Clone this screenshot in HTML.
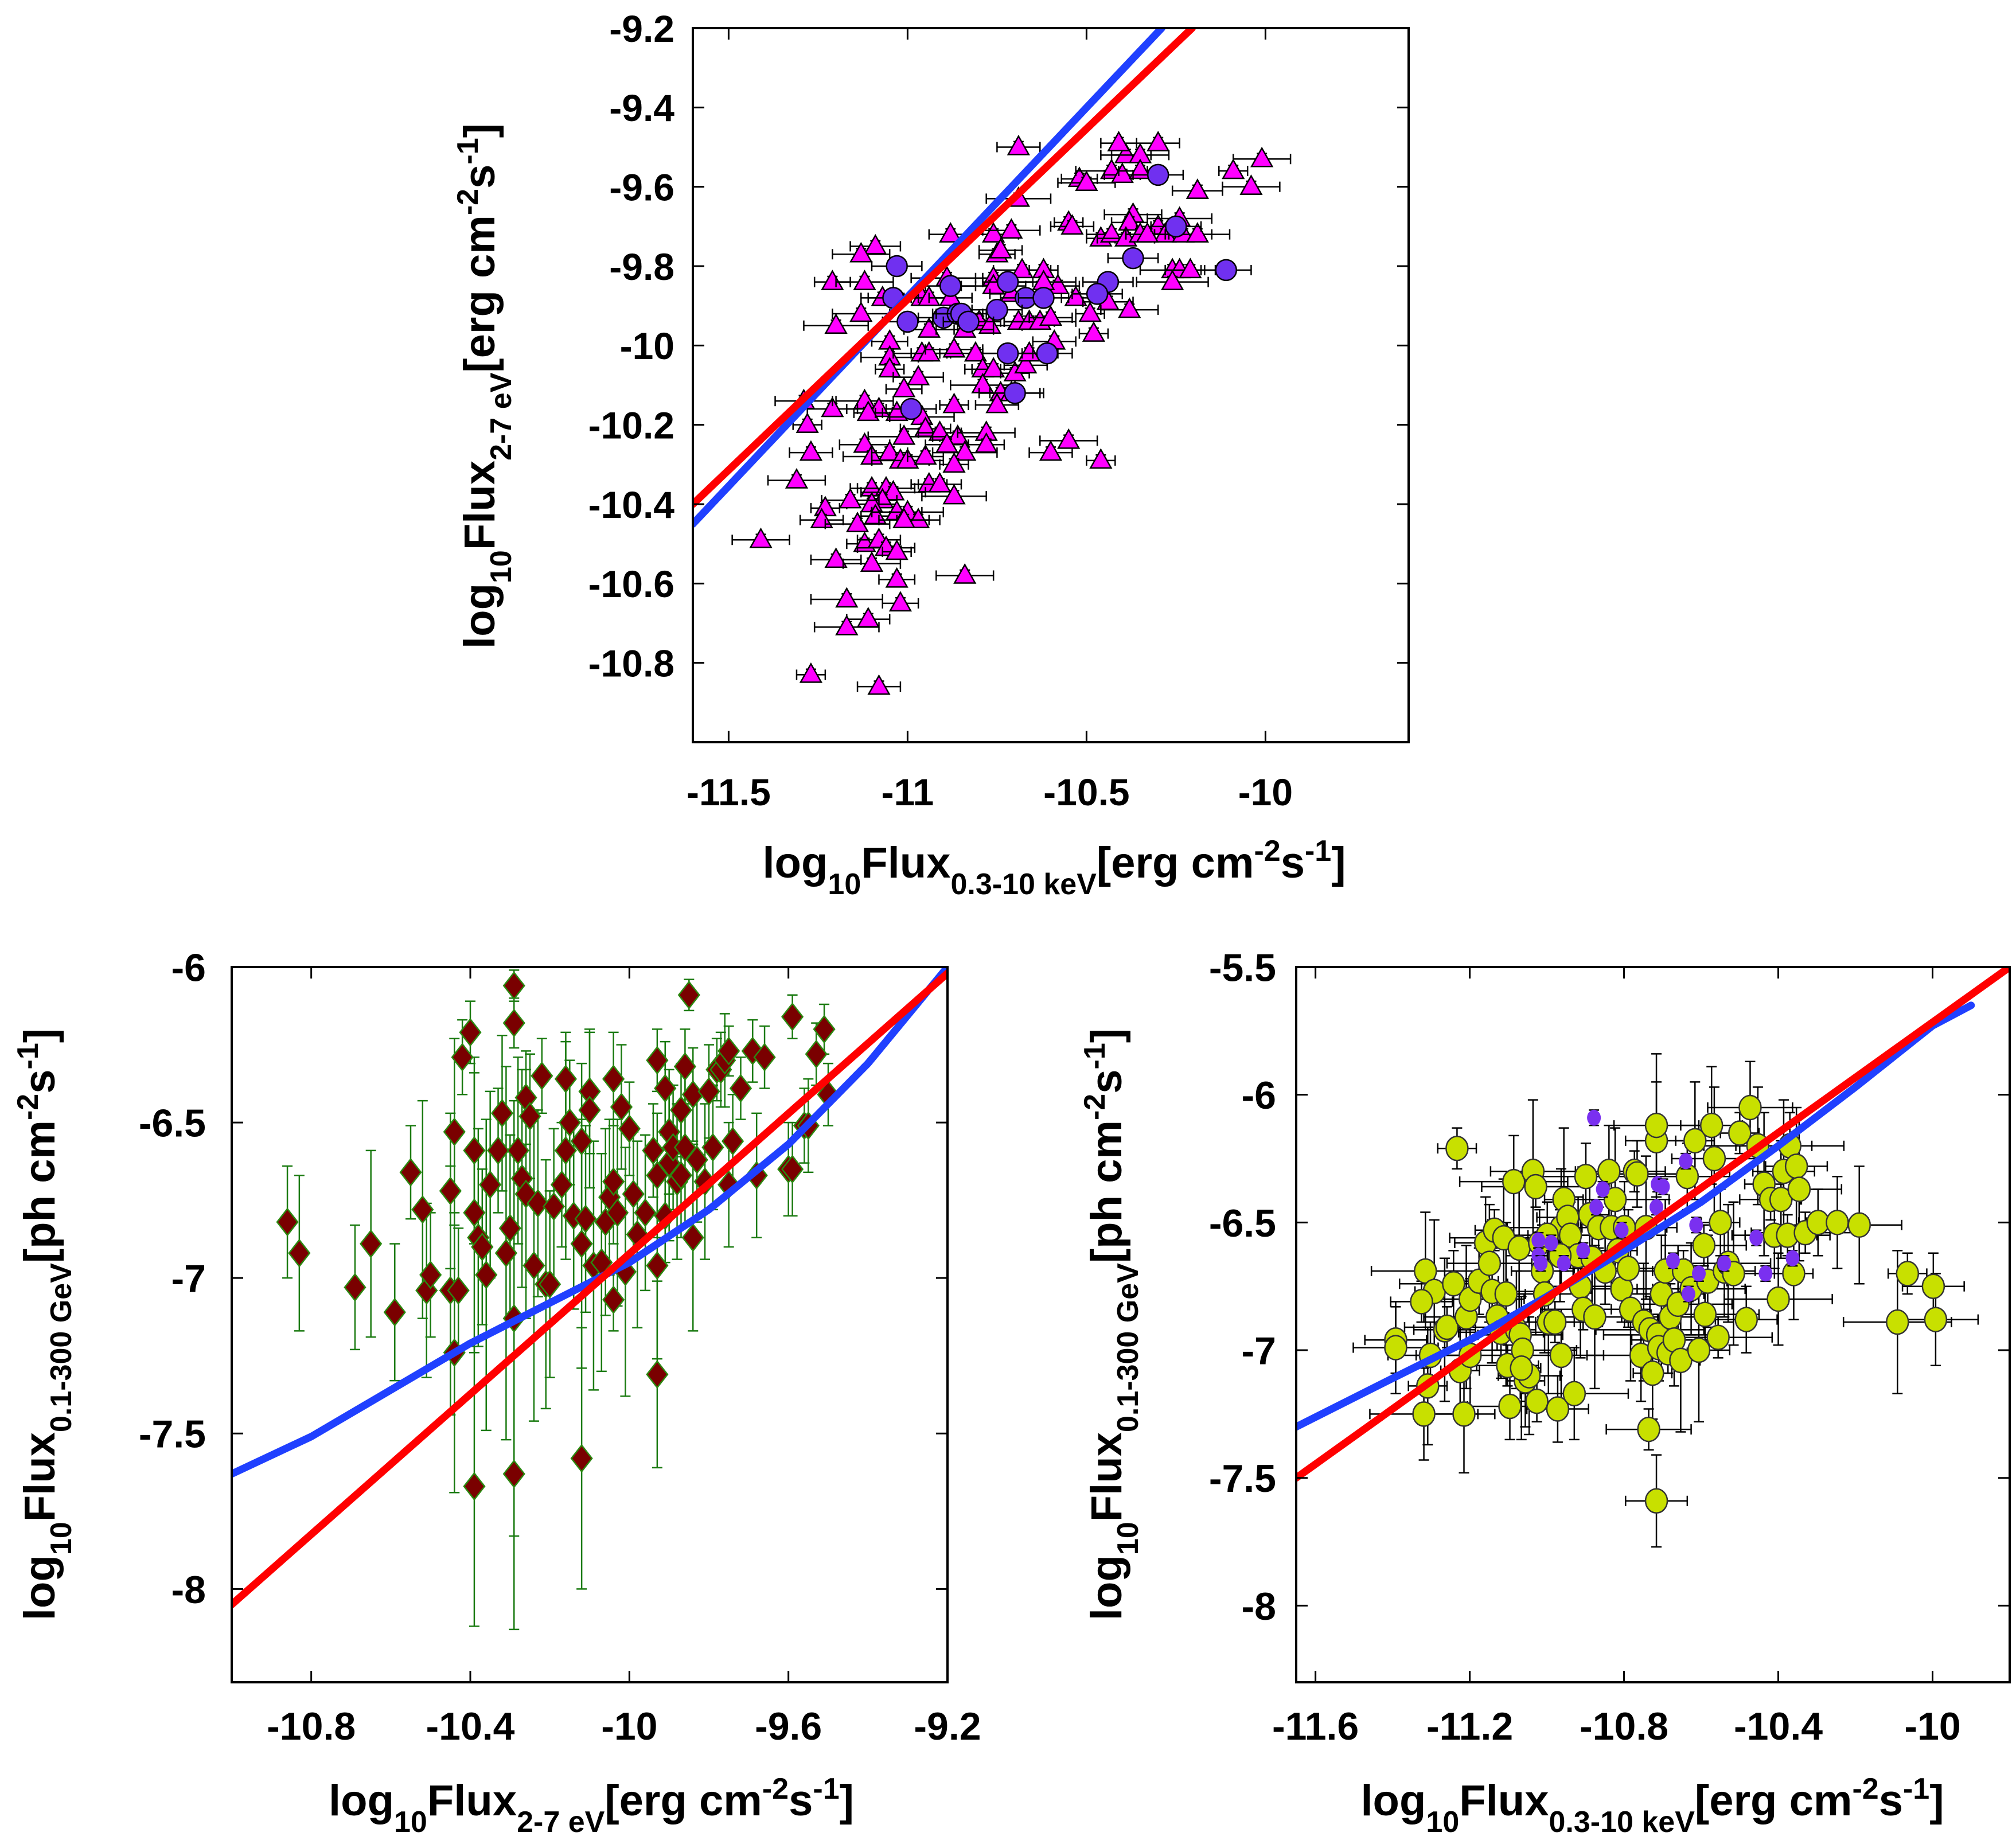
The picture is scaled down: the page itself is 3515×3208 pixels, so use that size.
<!DOCTYPE html>
<html><head><meta charset="utf-8"><style>
html,body{margin:0;padding:0;background:#fff}
svg{display:block}
text{font-family:"Liberation Sans",sans-serif;font-weight:bold;fill:#000}
</style></head><body>
<svg id="s" width="3515" height="3208" viewBox="0 0 3515 3208" xmlns="http://www.w3.org/2000/svg"></svg>
<script>
// ---------- DATA ----------
const topTriX=[-10.69,-10.39,-10.35,-10.41,-10.30,-10.01,-10.09,-10.19,-10.04,-10.52,-10.50,-10.43,-10.40,-10.35,-10.69,-10.55,-10.54,-10.37,-10.38,-10.30,-10.24,-10.28,-10.23,-10.19,-10.46,-10.43,-10.39,-10.35,-10.33,-10.26,-10.24,-10.21,-10.26,-10.88,-10.76,-10.71,-10.75,-10.74,-10.68,-10.62,-11.09,-11.13,-11.21,-11.12,-10.89,-10.76,-10.58,-10.62,-10.53,-11.07,-10.96,-10.94,-10.88,-10.76,-10.71,-11.13,-11.20,-10.49,-10.44,-10.38,-10.48,-10.80,-10.77,-10.69,-10.66,-10.63,-10.60,-10.94,-10.84,-11.05,-10.59,-11.05,-11.05,-10.97,-10.96,-10.94,-10.87,-10.81,-10.79,-10.76,-10.79,-10.70,-10.67,-10.66,-11.01,-10.74,-10.71,-10.75,-11.12,-11.08,-11.11,-11.21,-11.29,-11.28,-11.03,-10.96,-10.87,-10.95,-11.01,-10.91,-10.86,-10.78,-10.78,-10.60,-10.55,-10.46,-11.12,-11.10,-11.05,-11.02,-11.00,-10.95,-10.89,-10.84,-10.87,-11.27,-11.31,-10.94,-10.91,-10.87,-11.10,-11.06,-11.04,-11.07,-11.10,-11.16,-11.23,-11.24,-11.14,-11.09,-11.03,-11.00,-10.97,-11.01,-11.41,-11.12,-11.08,-11.06,-11.03,-11.20,-11.10,-11.03,-10.84,-11.17,-11.02,-11.11,-11.17,-11.27,-11.08];
const topTriY=[-9.50,-9.52,-9.52,-9.49,-9.49,-9.53,-9.56,-9.61,-9.60,-9.58,-9.59,-9.56,-9.57,-9.56,-9.63,-9.69,-9.70,-9.67,-9.69,-9.70,-9.68,-9.72,-9.72,-9.72,-9.73,-9.72,-9.73,-9.72,-9.72,-9.81,-9.81,-9.81,-9.84,-9.72,-9.72,-9.71,-9.77,-9.76,-9.81,-9.81,-9.75,-9.77,-9.84,-9.84,-9.83,-9.83,-9.85,-9.84,-9.88,-9.88,-9.88,-9.88,-9.88,-9.85,-9.87,-9.92,-9.95,-9.92,-9.89,-9.91,-9.97,-9.94,-9.95,-9.94,-9.94,-9.94,-9.93,-9.96,-9.96,-9.99,-9.99,-10.03,-10.06,-10.08,-10.02,-10.02,-10.01,-10.02,-10.06,-10.06,-10.10,-10.07,-10.05,-10.02,-10.11,-10.12,-10.12,-10.15,-10.14,-10.16,-10.17,-10.16,-10.14,-10.20,-10.17,-10.18,-10.15,-10.21,-10.23,-10.22,-10.23,-10.22,-10.25,-10.27,-10.24,-10.29,-10.25,-10.28,-10.27,-10.29,-10.29,-10.28,-10.25,-10.27,-10.30,-10.27,-10.34,-10.35,-10.35,-10.38,-10.36,-10.36,-10.37,-10.39,-10.40,-10.39,-10.41,-10.44,-10.45,-10.43,-10.42,-10.42,-10.44,-10.44,-10.49,-10.50,-10.49,-10.51,-10.52,-10.54,-10.55,-10.59,-10.58,-10.64,-10.65,-10.69,-10.71,-10.83,-10.86];
const topCircX=[-10.30,-10.25,-10.37,-10.11,-11.03,-10.88,-10.72,-10.44,-11.04,-10.67,-10.62,-10.47,-10.75,-10.90,-10.86,-10.85,-10.83,-11.00,-10.72,-10.61,-10.99,-10.70];
const topCircY=[-9.57,-9.70,-9.78,-9.81,-9.80,-9.85,-9.84,-9.84,-9.88,-9.88,-9.88,-9.87,-9.91,-9.93,-9.92,-9.92,-9.94,-9.94,-10.02,-10.02,-10.16,-10.12];
const topRedLine=[[-11.6,-10.40],[-10.205,-9.2]];
const topBlueLine=[[-11.6,-10.45],[-10.29,-9.2]];

const blX=[-10.86,-10.83,-10.69,-10.65,-10.59,-10.55,-10.52,-10.51,-10.50,-10.45,-10.44,-10.45,-10.44,-10.42,-10.40,-10.39,-10.39,-10.38,-10.37,-10.36,-10.35,-10.33,-10.32,-10.31,-10.30,-10.29,-10.29,-10.29,-10.28,-10.27,-10.26,-10.26,-10.25,-10.24,-10.23,-10.22,-10.21,-10.20,-10.19,-10.17,-10.16,-10.16,-10.15,-10.14,-10.12,-10.12,-10.11,-10.10,-10.10,-10.09,-10.07,-10.06,-10.05,-10.04,-10.04,-10.03,-10.02,-10.01,-10.00,-9.99,-9.98,-9.96,-9.94,-9.93,-9.93,-9.93,-9.91,-9.90,-9.90,-9.89,-9.88,-9.87,-9.87,-9.86,-9.86,-9.85,-9.84,-9.84,-9.83,-9.81,-9.80,-9.79,-9.78,-9.77,-9.76,-9.75,-9.75,-9.74,-9.72,-9.69,-9.68,-9.66,-9.60,-9.59,-9.59,-9.56,-9.55,-9.53,-9.51,-9.50,-10.12,-10.39,-10.29,-9.93,-10.04,-10.43,-9.91];
const blY=[-6.82,-6.92,-7.03,-6.89,-7.11,-6.66,-6.78,-7.04,-6.99,-7.04,-7.24,-6.72,-6.53,-6.29,-6.21,-6.59,-6.79,-6.87,-6.90,-6.99,-6.70,-6.59,-6.47,-6.92,-6.84,-7.13,-6.06,-6.18,-6.59,-6.68,-6.73,-6.42,-6.48,-6.96,-6.76,-6.35,-7.02,-7.02,-6.77,-6.70,-6.36,-6.59,-6.50,-6.80,-6.56,-6.89,-6.81,-6.40,-6.46,-6.96,-6.95,-6.82,-6.74,-6.69,-6.36,-6.79,-6.45,-6.98,-6.52,-6.73,-6.86,-6.79,-6.59,-6.67,-6.30,-6.96,-6.39,-6.53,-6.63,-6.58,-6.69,-6.67,-6.46,-6.32,-6.58,-6.09,-6.87,-6.41,-6.62,-6.69,-6.40,-6.58,-6.33,-6.33,-6.30,-6.27,-6.70,-6.56,-6.39,-6.27,-6.67,-6.29,-6.65,-6.65,-6.16,-6.51,-6.51,-6.28,-6.20,-6.41,-7.58,-7.67,-7.63,-7.31,-7.07,-7.04,-6.80];
const blYErr=[0.18,0.25,0.2,0.3,0.22,0.15,0.35,0.28,0.2,0.4,0.45,0.25,0.3,0.12,0.1,0.3,0.45,0.35,0.25,0.5,0.3,0.2,0.25,0.6,0.3,0.7,0.05,0.08,0.3,0.35,0.4,0.15,0.2,0.5,0.3,0.12,0.4,0.3,0.25,0.2,0.15,0.35,0.2,0.3,0.25,0.4,0.3,0.2,0.25,0.4,0.35,0.3,0.25,0.2,0.15,0.3,0.2,0.4,0.15,0.2,0.3,0.25,0.15,0.2,0.1,0.3,0.15,0.2,0.25,0.2,0.25,0.2,0.15,0.12,0.25,0.05,0.3,0.15,0.2,0.25,0.15,0.2,0.1,0.12,0.15,0.08,0.2,0.15,0.1,0.1,0.2,0.1,0.15,0.15,0.07,0.12,0.15,0.1,0.08,0.1,0.42,0.45,0.5,0.3,0.1,0.2,0.15];
const blRed=[[-11,-8.05],[-9.2,-6.02]];
const blBlueX=[-11,-10.8,-10.6,-10.4,-10.2,-10.0,-9.8,-9.6,-9.4,-9.2];
const blBlueY=[-7.63,-7.51,-7.36,-7.21,-7.08,-6.95,-6.78,-6.57,-6.31,-6.00];

const brX=[-11.233,-11.392,-11.392,-11.315,-11.292,-11.325,-11.302,-11.319,-11.309,-11.265,-11.259,-11.242,-11.225,-11.215,-11.209,-11.199,-11.176,-11.159,-11.149,-11.142,-11.136,-11.129,-11.119,-11.112,-11.106,-11.102,-11.096,-11.086,-11.079,-11.072,-11.069,-11.063,-11.056,-11.046,-11.036,-11.029,-11.019,-11.012,-11.006,-10.996,-10.979,-10.972,-10.963,-10.963,-10.956,-10.946,-10.939,-10.929,-10.919,-10.913,-10.906,-10.899,-10.889,-10.883,-10.876,-10.866,-10.849,-10.839,-10.833,-10.823,-10.816,-10.806,-10.799,-10.789,-10.783,-10.773,-10.766,-10.756,-10.749,-10.743,-10.736,-10.733,-10.726,-10.716,-10.716,-10.713,-10.710,-10.716,-10.703,-10.693,-10.686,-10.680,-10.670,-10.660,-10.653,-10.646,-10.636,-10.626,-10.616,-10.606,-10.593,-10.590,-10.583,-10.573,-10.566,-10.556,-10.550,-10.540,-10.530,-10.516,-10.500,-10.483,-10.473,-10.453,-10.437,-10.420,-10.410,-10.400,-10.393,-10.386,-10.376,-10.370,-10.360,-10.353,-10.346,-10.330,-10.297,-10.247,-10.190,-10.091,-10.065,-9.998,-9.992,-11.199,-11.066,-11.026,-10.999,-10.966,-10.926,-11.209,-11.116];
const brY=[-6.21,-6.96,-6.99,-6.69,-6.77,-6.81,-7.02,-7.25,-7.14,-6.92,-6.91,-6.74,-7.08,-7.25,-6.87,-6.80,-6.73,-6.58,-6.66,-6.77,-6.53,-6.87,-6.93,-6.56,-6.78,-7.06,-7.22,-6.34,-6.92,-6.60,-6.94,-7.00,-7.12,-7.10,-6.30,-6.36,-6.58,-6.69,-6.78,-6.89,-6.89,-7.23,-7.02,-6.52,-6.41,-6.48,-6.55,-7.17,-6.63,-6.75,-6.84,-6.32,-6.47,-6.64,-6.87,-6.52,-6.69,-6.30,-6.52,-6.41,-6.61,-6.76,-6.52,-6.68,-6.84,-6.30,-6.31,-7.02,-6.89,-6.52,-7.31,-6.92,-7.09,-6.18,-6.12,-6.94,-6.99,-7.59,-6.78,-6.69,-7.01,-6.87,-6.96,-6.82,-7.04,-6.69,-6.32,-6.76,-6.18,-7.00,-6.59,-6.86,-6.73,-6.12,-6.25,-6.95,-6.50,-6.69,-6.66,-6.70,-6.15,-6.88,-6.05,-6.20,-6.35,-6.41,-6.55,-6.80,-6.41,-6.30,-6.55,-6.20,-6.70,-6.28,-6.37,-6.54,-6.50,-6.50,-6.51,-6.89,-6.70,-6.75,-6.88,-7.02,-7.07,-7.20,-6.55,-6.63];
const brPX=[-10.878,-10.855,-10.872,-11.022,-10.989,-11.022,-11.016,-10.906,-10.806,-10.713,-10.699,-10.640,-10.673,-10.633,-10.613,-10.606,-10.540,-10.457,-10.433,-10.363,-10.716,-10.956];
const brPY=[-6.09,-6.37,-6.44,-6.57,-6.58,-6.63,-6.66,-6.61,-6.53,-6.35,-6.36,-6.26,-6.65,-6.78,-6.51,-6.70,-6.66,-6.56,-6.70,-6.64,-6.44,-6.66];
const brRed=[[-11.65,-7.50],[-9.8,-5.50]];
const brBlueX=[-11.65,-11.4,-11.2,-11.0,-10.8,-10.6,-10.4,-10.2,-10.0,-9.9];
const brBlueY=[-7.30,-7.11,-6.96,-6.79,-6.61,-6.42,-6.20,-5.97,-5.73,-5.65];

// ---------- DRAW ----------
const NS="http://www.w3.org/2000/svg";
const svg=document.getElementById('s');
function el(tag,attrs,parent){const e=document.createElementNS(NS,tag);for(const k in attrs)e.setAttribute(k,attrs[k]);(parent||svg).appendChild(e);return e;}

function panel(p){
  const g=el('g',{});
  
  
  const sx=v=>p.L+(v-p.xmin)/(p.xmax-p.xmin)*(p.R-p.L);
  const sy=v=>p.B-(v-p.ymin)/(p.ymax-p.ymin)*(p.B-p.T);
  p.sx=sx;p.sy=sy;
  const clipId='c'+p.name;
  const cp=el('clipPath',{id:clipId},g);el('rect',{x:p.L,y:p.T,width:p.R-p.L,height:p.B-p.T},cp);
  const plot=el('g',{'clip-path':'url(#'+clipId+')'},g);
  p.plot=plot;
  p.draw(p);
  const fr=el('rect',{x:p.L,y:p.T,width:p.R-p.L,height:p.B-p.T,fill:'none',stroke:'#000','stroke-width':4},g);
  
  
  p.xt.forEach(v=>{
    const x=sx(v);
    el('line',{x1:x,y1:p.B,x2:x,y2:p.B-20,stroke:'#000','stroke-width':3},g);
    el('line',{x1:x,y1:p.T,x2:x,y2:p.T+20,stroke:'#000','stroke-width':3},g);
    const t=el('text',{x:x,y:p.B+p.xlabOff,'text-anchor':'middle','font-size':p.fs},g);
    t.textContent=String(v);
    
    
  });
  p.yt.forEach(v=>{
    const y=sy(v);
    el('line',{x1:p.L,y1:y,x2:p.L+20,y2:y,stroke:'#000','stroke-width':3},g);
    el('line',{x1:p.R,y1:y,x2:p.R-20,y2:y,stroke:'#000','stroke-width':3},g);
    const t=el('text',{x:p.L-p.ylabOff,y:y+p.fs*0.36,'text-anchor':'end','font-size':p.fs},g);
    t.textContent=String(v);
    
    
  });
  const xt=el('text',{x:p.xtX,y:p.xtY,'text-anchor':'middle','font-size':76},g);
  xt.innerHTML=p.xTitle;
  
  
  const yt=el('text',{x:0,y:0,'text-anchor':'middle','font-size':76,transform:'translate('+p.ytX+','+p.ytY+') rotate(-90)'},g);
  yt.innerHTML=p.yTitle;
  
  
}
function line(p,pts,color,name){
  const d=pts.map((q,i)=>(i?'L':'M')+p.sx(q[0])+','+p.sy(q[1])).join(' ');
  const e=el('path',{d:d,fill:'none',stroke:color,'stroke-width':13,'stroke-linecap':'round','stroke-linejoin':'round'},p.plot);
  
  
}
function hbar(p,x,y,dx,color,w){
  const y0=p.sy(y),x1=p.sx(x-dx),x2=p.sx(x+dx);
  el('line',{x1:x1,y1:y0,x2:x2,y2:y0,stroke:color,'stroke-width':w||2},p.plot);
  el('line',{x1:x1,y1:y0-9,x2:x1,y2:y0+9,stroke:color,'stroke-width':w||2},p.plot);
  el('line',{x1:x2,y1:y0-9,x2:x2,y2:y0+9,stroke:color,'stroke-width':w||2},p.plot);
}
function vbar(p,x,y,dy,color,w){
  const x0=p.sx(x),y1=p.sy(y-dy),y2=p.sy(y+dy);
  el('line',{x1:x0,y1:y1,x2:x0,y2:y2,stroke:color,'stroke-width':w||2},p.plot);
  el('line',{x1:x0-9,y1:y1,x2:x0+9,y2:y1,stroke:color,'stroke-width':w||2},p.plot);
  el('line',{x1:x0-9,y1:y2,x2:x0+9,y2:y2,stroke:color,'stroke-width':w||2},p.plot);
}
const topXErr=[0.06,0.05,0.04,0.05,0.04,0.04,0.04,0.05,0.04,0.05,0.06];
const TITLE27='log<tspan baseline-shift="sub" font-size="52">10</tspan>Flux<tspan baseline-shift="sub" font-size="52">2-7 eV</tspan>[erg cm<tspan baseline-shift="super" font-size="52">-2</tspan>s<tspan baseline-shift="super" font-size="52">-1</tspan>]';
const TITLEX='log<tspan baseline-shift="sub" font-size="52">10</tspan>Flux<tspan baseline-shift="sub" font-size="52">0.3-10 keV</tspan>[erg cm<tspan baseline-shift="super" font-size="52">-2</tspan>s<tspan baseline-shift="super" font-size="52">-1</tspan>]';
const TITLEG='log<tspan baseline-shift="sub" font-size="52">10</tspan>Flux<tspan baseline-shift="sub" font-size="52">0.1-300 GeV</tspan>[ph cm<tspan baseline-shift="super" font-size="52">-2</tspan>s<tspan baseline-shift="super" font-size="52">-1</tspan>]';

panel({name:'top-panel',L:1208,R:2456,T:49,B:1294,xmin:-11.6,xmax:-9.6,ymin:-11,ymax:-9.2,
  xt:[-11.5,-11,-10.5,-10],yt:[-9.2,-9.4,-9.6,-9.8,-10,-10.2,-10.4,-10.6,-10.8],
  fs:66,xlabOff:110,ylabOff:32,xtX:1838,xtY:1530,ytX:862,ytY:673,xTitle:TITLEX,yTitle:TITLE27,
  draw:function(p){
    topTriX.forEach((x,i)=>{
      hbar(p,x,topTriY[i],topXErr[i%topXErr.length]+0.02*(i%3),'#000',2.5);
      vbar(p,x,topTriY[i],0.014,'#000',2.5);
      const cx=p.sx(x),cy=p.sy(topTriY[i]);
      const t=el('polygon',{points:(cx)+','+(cy-19)+' '+(cx-18)+','+(cy+13)+' '+(cx+18)+','+(cy+13),fill:'#ff00ff',stroke:'#000','stroke-width':2.5},p.plot);
      
      
    });
    topCircX.forEach((x,i)=>{
      hbar(p,x,topCircY[i],0.07,'#000',2.5);
      const c=el('circle',{cx:p.sx(x),cy:p.sy(topCircY[i]),r:18,fill:'#7030f0',stroke:'#000','stroke-width':2.5},p.plot);
      
      
    });
    line(p,topBlueLine,'#2040ff','blue-fit-line');
    line(p,topRedLine,'#ff0000','red-fit-line');
  }});

panel({name:'bottom-left-panel',L:404,R:1652,T:1686,B:2933,xmin:-11,xmax:-9.2,ymin:-8.3,ymax:-6,
  xt:[-10.8,-10.4,-10,-9.6,-9.2],yt:[-6,-6.5,-7,-7.5,-8],
  fs:68,xlabOff:100,ylabOff:45,xtX:1031,xtY:3165,ytX:95,ytY:2309,xTitle:TITLE27,yTitle:TITLEG,
  draw:function(p){
    blX.forEach((x,i)=>{vbar(p,x,blY[i],blYErr[i],'#1a7a10',2.5);});
    blX.forEach((x,i)=>{
      const cx=p.sx(x),cy=p.sy(blY[i]);
      const d=el('polygon',{points:cx+','+(cy-23)+' '+(cx+18)+','+cy+' '+cx+','+(cy+23)+' '+(cx-18)+','+cy,fill:'#7a0000',stroke:'#2a8a10','stroke-width':2.5},p.plot);
      
      
    });
    line(p,blBlueX.map((x,i)=>[x,blBlueY[i]]),'#2040ff','blue-fit-curve');
    line(p,blRed,'#ff0000','red-fit-line');
  }});

panel({name:'bottom-right-panel',L:2260,R:3504,T:1686,B:2933,xmin:-11.65,xmax:-9.8,ymin:-8.3,ymax:-5.5,
  xt:[-11.6,-11.2,-10.8,-10.4,-10],yt:[-5.5,-6,-6.5,-7,-7.5,-8],
  fs:68,xlabOff:100,ylabOff:35,xtX:2881,xtY:3165,ytX:1955,ytY:2309,xTitle:TITLEX,yTitle:TITLEG,
  draw:function(p){
    brX.forEach((x,i)=>{
      hbar(p,x,brY[i],0.05+0.03*(i%4),'#000',2.5);
      vbar(p,x,brY[i],0.08+0.05*(i%5),'#000',2.5);
    });
    brX.forEach((x,i)=>{
      const c=el('ellipse',{cx:p.sx(x),cy:p.sy(brY[i]),rx:19,ry:21,fill:'#c8e000',stroke:'#333','stroke-width':2.5},p.plot);
      
      
    });
    brPX.forEach((x,i)=>{
      vbar(p,x,brPY[i],0.03,'#000',2.5);
      const c=el('ellipse',{cx:p.sx(x),cy:p.sy(brPY[i]),rx:12,ry:14,fill:'#7a30f0'},p.plot);
      
      
    });
    line(p,brBlueX.map((x,i)=>[x,brBlueY[i]]),'#2040ff','blue-fit-curve');
    line(p,brRed,'#ff0000','red-fit-line');
  }});
</script>
</body></html>
